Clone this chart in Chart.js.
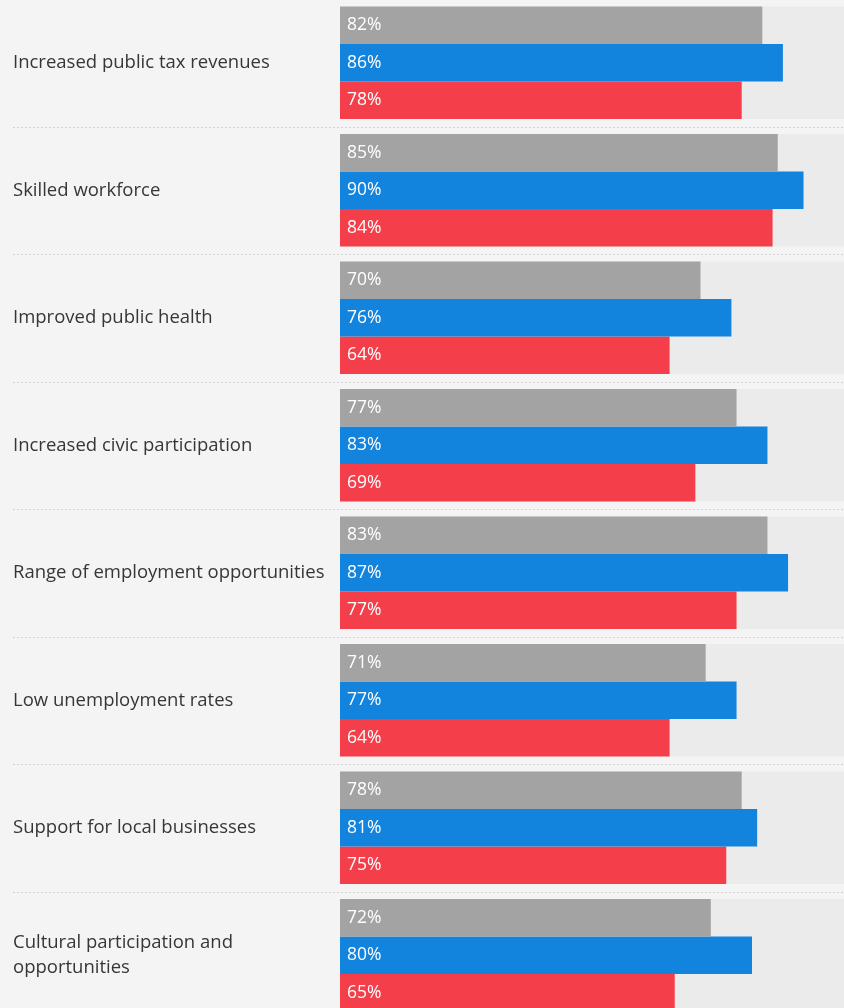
<!DOCTYPE html>
<html>
<head>
<meta charset="utf-8">
<script src="https://cdn.jsdelivr.net/npm/chart.js@4/dist/chart.umd.min.js"></script>
<style>
  html, body { margin: 0; padding: 0; background: #f4f4f4; overflow: hidden; }
  #wrap { position: relative; width: 855px; height: 1020px; margin-top: -1.5px; }
</style>
</head>
<body>
<div id="wrap"><canvas id="grafico"></canvas></div>
<script>
var categorias = [
  "Increased public tax revenues",
  "Skilled workforce",
  "Improved public health",
  "Increased civic participation",
  "Range of employment opportunities",
  "Low unemployment rates",
  "Support for local businesses",
  ["Cultural participation and", "opportunities"]
];
var serieGris = [82, 85, 70, 77, 83, 71, 78, 72];
var serieAzul = [86, 90, 76, 83, 87, 77, 81, 80];
var serieRoja = [78, 84, 64, 69, 77, 64, 75, 65];

var colores = ["#a3a3a3", "#1284de", "#f43f4a"];
var fuente = "'Open Sans', sans-serif";

// fondo gris claro (0-100%) detrás de cada grupo y líneas punteadas entre grupos
var pistas = {
  id: "pistas",
  beforeDatasetsDraw: function (chart) {
    var c = chart.ctx, x = chart.scales.x, y = chart.scales.y;
    var primero = chart.getDatasetMeta(0).data;
    var ultimo = chart.getDatasetMeta(2).data;
    var x0 = x.getPixelForValue(0), x1 = x.getPixelForValue(100);
    c.save();
    for (var i = 0; i < primero.length; i++) {
      var top = primero[i].y - primero[i].height / 2;
      var bottom = ultimo[i].y + ultimo[i].height / 2;
      c.fillStyle = "#ebebeb";
      c.fillRect(x0, top, x1 - x0, bottom - top);
    }
    var paso = y.getPixelForValue(1) - y.getPixelForValue(0);
    c.strokeStyle = "#d2d2d2";
    c.lineWidth = 1;
    c.setLineDash([2, 2]);
    for (var j = 0; j < primero.length - 1; j++) {
      var ly = Math.round(y.getPixelForValue(j) + paso / 2) + 0.5;
      c.beginPath();
      c.moveTo(13, ly);
      c.lineTo(chart.width, ly);
      c.stroke();
    }
    c.restore();
  }
};

// porcentajes en blanco dentro de cada barra
var etiquetas = {
  id: "etiquetas",
  afterDatasetsDraw: function (chart) {
    var c = chart.ctx;
    c.save();
    c.fillStyle = "#ffffff";
    c.font = "17.5px " + fuente;
    c.textBaseline = "middle";
    c.textAlign = "left";
    chart.data.datasets.forEach(function (ds, d) {
      chart.getDatasetMeta(d).data.forEach(function (bar, i) {
        c.fillText(ds.data[i] + "%", bar.base + 7, bar.y);
      });
    });
    c.restore();
  }
};

var ctx = document.getElementById("grafico").getContext("2d");
var grafico = new Chart(ctx, {
  type: "bar",
  data: {
    labels: categorias,
    datasets: [
      { data: serieGris, backgroundColor: colores[0] },
      { data: serieAzul, backgroundColor: colores[1] },
      { data: serieRoja, backgroundColor: colores[2] }
    ]
  },
  options: {
    indexAxis: "y",
    responsive: true,
    maintainAspectRatio: false,
    animation: false,
    layout: { padding: { left: 13, right: 0, top: 0, bottom: 0 } },
    datasets: { bar: { barPercentage: 1, categoryPercentage: 112.5 / 127.5 } },
    plugins: { legend: { display: false }, tooltip: { enabled: false } },
    scales: {
      x: { display: false, min: 0, max: 100 },
      y: {
        grid: { display: false },
        border: { display: false },
        afterFit: function (axis) {
          axis.width = 327;
          axis.paddingTop = 0;
          axis.paddingBottom = 0;
        },
        ticks: {
          crossAlign: "far",
          padding: 0,
          color: "#363636",
          font: { family: fuente, size: 18.5, lineHeight: 1.3 }
        }
      }
    }
  },
  plugins: [pistas, etiquetas]
});
</script>
</body>
</html>
